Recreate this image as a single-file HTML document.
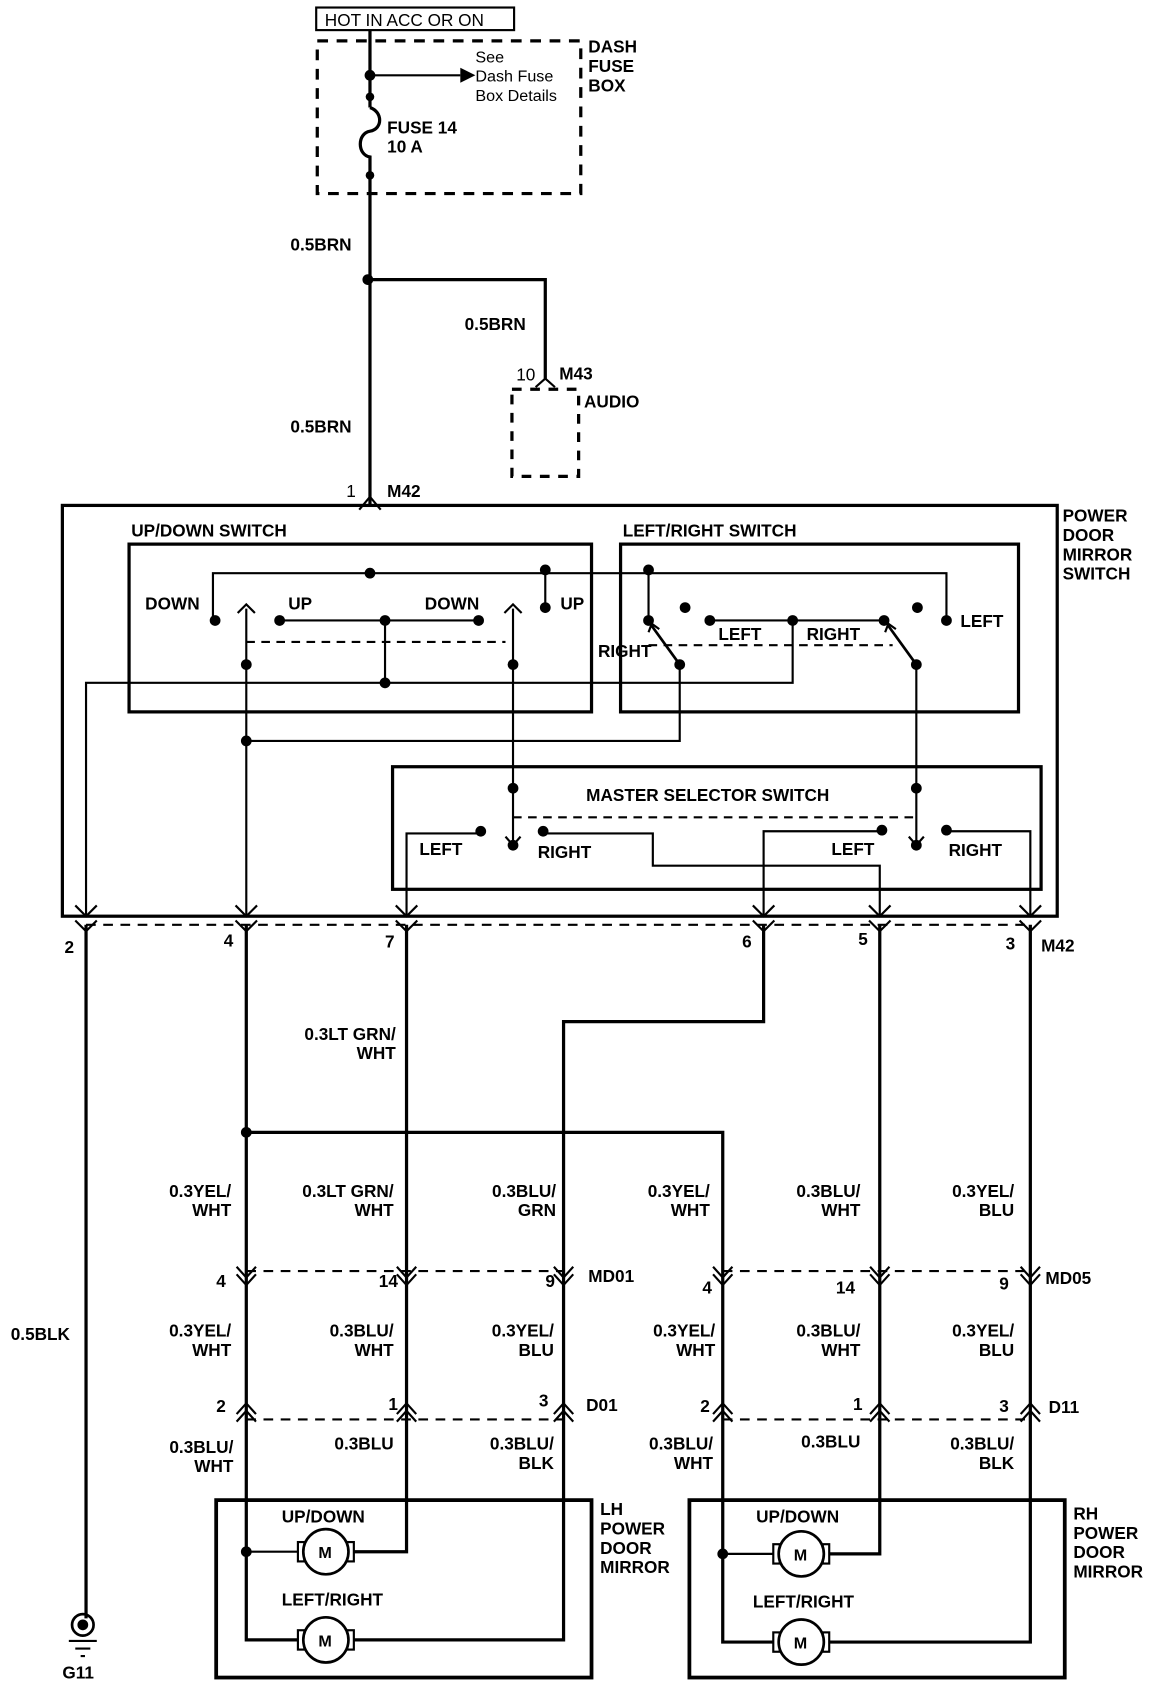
<!DOCTYPE html>
<html><head><meta charset="utf-8"><style>
html,body{margin:0;padding:0;background:#fff;}
svg{display:block;}
text{font-family:"Liberation Sans",Arial,sans-serif;font-size:16px;font-weight:bold;fill:#000;}
.n{font-weight:normal;}
</style></head><body>
<svg width="1168" height="1684" viewBox="0 0 1086 1566" preserveAspectRatio="none" xmlns="http://www.w3.org/2000/svg">
<defs>
<g id="cd" fill="none" stroke="#000" stroke-width="2"><path d="M-9,-12 L0,-2 L9,-12 M-9,-5 L0,5 L9,-5"/></g>
<g id="cu" fill="none" stroke="#000" stroke-width="2"><path d="M-9,12 L0,2 L9,12 M-9,5 L0,-5 L9,5"/></g>
<g id="sv" fill="none" stroke="#000" stroke-width="2"><path d="M-10,-10 L0,0 L10,-10"/></g>
<g id="mot"><rect x="-26" y="-9" width="6" height="18" fill="#fff" stroke="#000" stroke-width="2"/><rect x="20" y="-9" width="6" height="18" fill="#fff" stroke="#000" stroke-width="2"/><circle r="21" fill="#fff" stroke="#000" stroke-width="2.5"/><text x="-7" y="6" style="font-size:15px">M</text></g>
</defs>
<g fill="none" stroke="#000">
<rect x="294" y="7" width="184" height="21" stroke-width="2"/>
<rect x="295" y="38" width="245" height="142" stroke-width="3" stroke-dasharray="10,8"/>
<path d="M344,28 V100" stroke-width="3"/>
<path d="M344,100 c12,4 12,20 0,22 c-12,2 -12,22 0,24 V470" stroke-width="3"/>
<path d="M344,70 H428" stroke-width="2"/>
<path d="M344,260 H507 V352" stroke-width="3"/>
<path d="M498,360 L507,352 L516,360" stroke-width="2"/>
<rect x="476" y="362" width="62" height="81" stroke-width="3" stroke-dasharray="9,8"/>
<path d="M334,474 L344,462 L354,474" stroke-width="2"/>
<rect x="58" y="470" width="925" height="382" stroke-width="3"/>
<rect x="120" y="506" width="430" height="156" stroke-width="3"/>
<rect x="577" y="506" width="370" height="156" stroke-width="3"/>
<rect x="365" y="713" width="603" height="114" stroke-width="3"/>
<path d="M198,577 V533 H880 V577" stroke-width="2"/>
<path d="M507,533 V565" stroke-width="2"/>
<path d="M260,577 H445" stroke-width="2"/>
<path d="M358,577 V635" stroke-width="2"/>
<path d="M229,597 H470 M603,600 H830" stroke-width="2" stroke-dasharray="8,6"/>
<path d="M80,852 V635 H737 V577" stroke-width="2"/>
<path d="M229,566 V852" stroke-width="2"/>
<path d="M477,566 V785" stroke-width="2"/>
<path d="M229,689 H632 V618" stroke-width="2"/>
<path d="M603,533 V577" stroke-width="2"/>
<path d="M660,577 H822" stroke-width="2"/>
<path d="M632,618 L606,582 M852,618 L826,582" stroke-width="2.5"/>
<path d="M852,618 V785" stroke-width="2"/>
<path d="M221,570 L229,562 L237,570 M469,570 L477,562 L485,570" stroke-width="2"/>
<path d="M603,588 L606,580 L613,585 M823,588 L826,580 L833,585" stroke-width="2"/>
<path d="M477,760 H852" stroke-width="2" stroke-dasharray="8,6"/>
<path d="M447,775 H378 V852" stroke-width="2"/>
<path d="M505,775 H607 V805 H818 V852" stroke-width="2"/>
<path d="M820,773 H710 V852" stroke-width="2"/>
<path d="M880,773 H958 V852" stroke-width="2"/>
<path d="M470,778 L477,786 L484,778 M845,778 L852,786 L859,778" stroke-width="2"/>
<path d="M80,860 H958" stroke-width="2" stroke-dasharray="9,7"/>
<path d="M80,860 V1505" stroke-width="3"/>
<path d="M229,860 V1525 H280" stroke-width="3"/>
<path d="M229,1053 H672 V1527 H721" stroke-width="3"/>
<path d="M378,860 V1443 H328" stroke-width="3"/>
<path d="M710,860 V950 H524 V1525 H328" stroke-width="3"/>
<path d="M818,860 V1445 H770" stroke-width="3"/>
<path d="M958,860 V1527 H770" stroke-width="3"/>
<path d="M229,1443 H280 M672,1445 H721" stroke-width="2"/>
<path d="M229,1182 H524 M672,1182 H958" stroke-width="2" stroke-dasharray="9,7"/>
<path d="M229,1320 H524 M672,1320 H958" stroke-width="2" stroke-dasharray="9,7"/>
<rect x="201" y="1395" width="349" height="165" stroke-width="3.5"/>
<rect x="641" y="1395" width="349" height="165" stroke-width="3.5"/>
<circle cx="77" cy="1511" r="10" stroke-width="2.5"/>
<path d="M64,1526 H90 M70,1533 H84 M75,1540 H79" stroke-width="2"/>
</g>
<path d="M428,63 L442,70 L428,77 Z" fill="#000"/>
<g fill="#000">
<circle cx="344" cy="70" r="5"/><circle cx="344" cy="90" r="4"/><circle cx="344" cy="163" r="4"/>
<circle cx="342" cy="260" r="5"/><circle cx="344" cy="533" r="5"/><circle cx="507" cy="530" r="5"/>
<circle cx="200" cy="577" r="5"/><circle cx="260" cy="577" r="5"/><circle cx="358" cy="577" r="5"/><circle cx="445" cy="577" r="5"/><circle cx="507" cy="565" r="5"/>
<circle cx="229" cy="618" r="5"/><circle cx="477" cy="618" r="5"/><circle cx="358" cy="635" r="5"/><circle cx="229" cy="689" r="5"/>
<circle cx="603" cy="530" r="5"/><circle cx="603" cy="577" r="5"/><circle cx="637" cy="565" r="5"/><circle cx="660" cy="577" r="5"/><circle cx="737" cy="577" r="5"/><circle cx="822" cy="577" r="5"/><circle cx="853" cy="565" r="5"/><circle cx="880" cy="577" r="5"/>
<circle cx="632" cy="618" r="5"/><circle cx="852" cy="618" r="5"/>
<circle cx="477" cy="733" r="5"/><circle cx="852" cy="733" r="5"/>
<circle cx="447" cy="773" r="5"/><circle cx="477" cy="786" r="5"/><circle cx="505" cy="773" r="5"/><circle cx="820" cy="772" r="5"/><circle cx="852" cy="786" r="5"/><circle cx="880" cy="772" r="5"/>
<circle cx="229" cy="1053" r="5"/><circle cx="229" cy="1443" r="5"/><circle cx="672" cy="1445" r="5"/>
<circle cx="77" cy="1511" r="5"/>
</g>
<use href="#sv" x="80" y="852"/><use href="#sv" x="229" y="852"/><use href="#sv" x="378" y="852"/><use href="#sv" x="710" y="852"/><use href="#sv" x="818" y="852"/><use href="#sv" x="958" y="852"/>
<use href="#sv" x="80" y="866"/><use href="#sv" x="229" y="866"/><use href="#sv" x="378" y="866"/><use href="#sv" x="710" y="866"/><use href="#sv" x="818" y="866"/><use href="#sv" x="958" y="866"/>
<use href="#cd" x="229" y="1190"/><use href="#cd" x="378" y="1190"/><use href="#cd" x="524" y="1190"/><use href="#cd" x="672" y="1190"/><use href="#cd" x="818" y="1190"/><use href="#cd" x="958" y="1190"/>
<use href="#cu" x="229" y="1310"/><use href="#cu" x="378" y="1310"/><use href="#cu" x="524" y="1310"/><use href="#cu" x="672" y="1310"/><use href="#cu" x="818" y="1310"/><use href="#cu" x="958" y="1310"/>
<use href="#mot" x="303" y="1443"/><use href="#mot" x="303" y="1525"/><use href="#mot" x="745" y="1445"/><use href="#mot" x="745" y="1527"/>
<text x="302" y="24" class="n">HOT IN ACC OR ON</text>
<text x="442" y="58" class="n" style="font-size:15px">See</text>
<text x="442" y="76" class="n" style="font-size:15px">Dash Fuse</text>
<text x="442" y="94" class="n" style="font-size:15px">Box Details</text>
<text x="547" y="49">DASH</text><text x="547" y="67">FUSE</text><text x="547" y="85">BOX</text>
<text x="360" y="124">FUSE 14</text><text x="360" y="142">10 A</text>
<text x="270" y="233">0.5BRN</text>
<text x="432" y="307">0.5BRN</text>
<text x="480" y="354" class="n">10</text><text x="520" y="353">M43</text>
<text x="543" y="379">AUDIO</text>
<text x="270" y="402">0.5BRN</text>
<text x="322" y="462" class="n">1</text><text x="360" y="462">M42</text>
<text x="988" y="485">POWER</text><text x="988" y="503">DOOR</text><text x="988" y="521">MIRROR</text><text x="988" y="539">SWITCH</text>
<text x="122" y="499">UP/DOWN SWITCH</text>
<text x="579" y="499">LEFT/RIGHT SWITCH</text>
<text x="135" y="567">DOWN</text><text x="268" y="567">UP</text><text x="395" y="567">DOWN</text><text x="521" y="567">UP</text>
<text x="668" y="595">LEFT</text><text x="750" y="595">RIGHT</text><text x="893" y="583">LEFT</text><text x="556" y="611">RIGHT</text>
<text x="545" y="745">MASTER SELECTOR SWITCH</text>
<text x="390" y="795">LEFT</text><text x="500" y="798">RIGHT</text><text x="773" y="795">LEFT</text><text x="882" y="796">RIGHT</text>
<text x="60" y="886">2</text><text x="208" y="880">4</text><text x="358" y="881">7</text><text x="690" y="881">6</text><text x="798" y="879">5</text><text x="935" y="883">3</text><text x="968" y="885">M42</text>
<g text-anchor="end">
<text x="368" y="967">0.3LT GRN/</text><text x="368" y="985">WHT</text>
<text x="215" y="1113">0.3YEL/</text><text x="215" y="1131">WHT</text>
<text x="366" y="1113">0.3LT GRN/</text><text x="366" y="1131">WHT</text>
<text x="517" y="1113">0.3BLU/</text><text x="517" y="1131">GRN</text>
<text x="660" y="1113">0.3YEL/</text><text x="660" y="1131">WHT</text>
<text x="800" y="1113">0.3BLU/</text><text x="800" y="1131">WHT</text>
<text x="943" y="1113">0.3YEL/</text><text x="943" y="1131">BLU</text>
<text x="215" y="1243">0.3YEL/</text><text x="215" y="1261">WHT</text>
<text x="366" y="1243">0.3BLU/</text><text x="366" y="1261">WHT</text>
<text x="515" y="1243">0.3YEL/</text><text x="515" y="1261">BLU</text>
<text x="665" y="1243">0.3YEL/</text><text x="665" y="1261">WHT</text>
<text x="800" y="1243">0.3BLU/</text><text x="800" y="1261">WHT</text>
<text x="943" y="1243">0.3YEL/</text><text x="943" y="1261">BLU</text>
<text x="217" y="1351">0.3BLU/</text><text x="217" y="1369">WHT</text>
<text x="366" y="1348">0.3BLU</text>
<text x="515" y="1348">0.3BLU/</text><text x="515" y="1366">BLK</text>
<text x="663" y="1348">0.3BLU/</text><text x="663" y="1366">WHT</text>
<text x="800" y="1346">0.3BLU</text>
<text x="943" y="1348">0.3BLU/</text><text x="943" y="1366">BLK</text>
<text x="210" y="1197">4</text><text x="370" y="1197">14</text><text x="516" y="1197">9</text>
<text x="662" y="1203">4</text><text x="795" y="1203">14</text><text x="938" y="1199">9</text>
<text x="210" y="1313">2</text><text x="370" y="1311">1</text><text x="510" y="1308">3</text>
<text x="660" y="1313">2</text><text x="802" y="1311">1</text><text x="938" y="1313">3</text>
</g>
<text x="10" y="1246">0.5BLK</text>
<text x="547" y="1192">MD01</text><text x="972" y="1194">MD05</text>
<text x="545" y="1312">D01</text><text x="975" y="1314">D11</text>
<text x="558" y="1409">LH</text><text x="558" y="1427">POWER</text><text x="558" y="1445">DOOR</text><text x="558" y="1463">MIRROR</text>
<text x="998" y="1413">RH</text><text x="998" y="1431">POWER</text><text x="998" y="1449">DOOR</text><text x="998" y="1467">MIRROR</text>
<text x="262" y="1416">UP/DOWN</text><text x="262" y="1493">LEFT/RIGHT</text>
<text x="703" y="1416">UP/DOWN</text><text x="700" y="1495">LEFT/RIGHT</text>
<text x="58" y="1561">G11</text>
</svg>
</body></html>
